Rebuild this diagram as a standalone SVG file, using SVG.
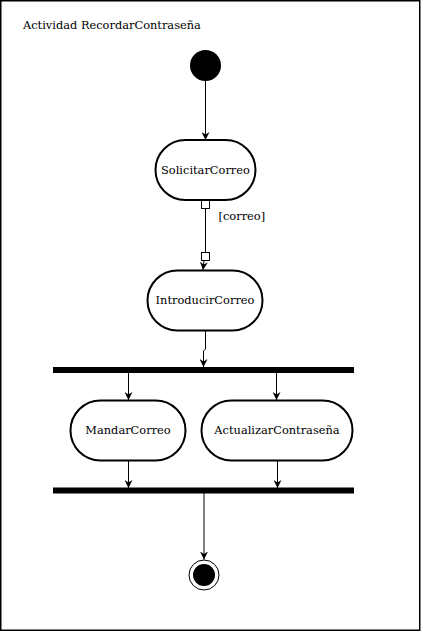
<svg xmlns="http://www.w3.org/2000/svg" width="421" height="639" viewBox="0 0 421 639">
<style>
text{font-family:"DejaVu Serif","Liberation Serif",serif;font-size:11.4px;fill:#000}
.act{fill:#fff;stroke:#000;stroke-width:2}
.c{fill:none;stroke:#000;stroke-width:1}
.bar{fill:#000}
.pin{fill:#fff;stroke:#000;stroke-width:1}
</style>
<defs>
<marker id="ah" viewBox="0 0 10 10" refX="10" refY="5" markerWidth="8" markerHeight="8" markerUnits="userSpaceOnUse" orient="auto">
<path d="M0,0 L10,5 L0,10 L3,5 Z" fill="#000"/>
</marker>
</defs>
<rect x="0.75" y="0.75" width="419" height="629.5" fill="#fff" stroke="#000" stroke-width="1.5"/>
<text x="23" y="29">Actividad RecordarContraseña</text>
<g id="connectors">
<line class="c" x1="205.5" y1="81" x2="205.5" y2="140" marker-end="url(#ah)"/>
<line class="c" x1="205.5" y1="208.5" x2="205.5" y2="252.5"/>
<line class="c" x1="204" y1="260.5" x2="203" y2="270" marker-end="url(#ah)"/>
<polyline class="c" points="205.5,330.5 205.5,349 203.5,351 203.5,367" marker-end="url(#ah)"/>
<line class="c" x1="128.5" y1="373" x2="128.5" y2="400" marker-end="url(#ah)"/>
<line class="c" x1="276.5" y1="373" x2="276.5" y2="400" marker-end="url(#ah)"/>
<line class="c" x1="128.5" y1="461" x2="128.5" y2="488" marker-end="url(#ah)"/>
<line class="c" x1="277.5" y1="461" x2="277.5" y2="488" marker-end="url(#ah)"/>
<line class="c" x1="204" y1="493" x2="204" y2="559.5" marker-end="url(#ah)"/>
<text x="218.5" y="220">[correo]</text>
</g>
<g id="initial"><circle cx="205.5" cy="65.5" r="15.5" fill="#000"/></g>
<g id="SolicitarCorreo">
<rect class="act" x="155.5" y="140" width="100" height="60" rx="30"/>
<text x="205.5" y="174" text-anchor="middle">SolicitarCorreo</text>
<rect class="pin" x="201.5" y="200.5" width="8" height="8"/>
</g>
<g id="IntroducirCorreo">
<rect class="pin" x="201.5" y="252.5" width="8" height="8"/>
<rect class="act" x="147.5" y="270.5" width="115" height="60" rx="30"/>
<text x="205" y="304" text-anchor="middle">IntroducirCorreo</text>
</g>
<g id="fork"><rect class="bar" x="53" y="367" width="301" height="6"/></g>
<g id="MandarCorreo">
<rect class="act" x="70.5" y="400.5" width="115" height="60" rx="30"/>
<text x="128" y="434" text-anchor="middle">MandarCorreo</text>
</g>
<g id="ActualizarContrasena">
<rect class="act" x="201.5" y="400.5" width="151" height="60" rx="30"/>
<text x="277" y="434" text-anchor="middle">ActualizarContraseña</text>
</g>
<g id="join"><rect class="bar" x="53" y="487.5" width="301" height="6"/></g>
<g id="final">
<circle cx="204" cy="575" r="15" fill="#fff" stroke="#000" stroke-width="1"/>
<circle cx="204" cy="575" r="11" fill="#000"/>
</g>
</svg>
